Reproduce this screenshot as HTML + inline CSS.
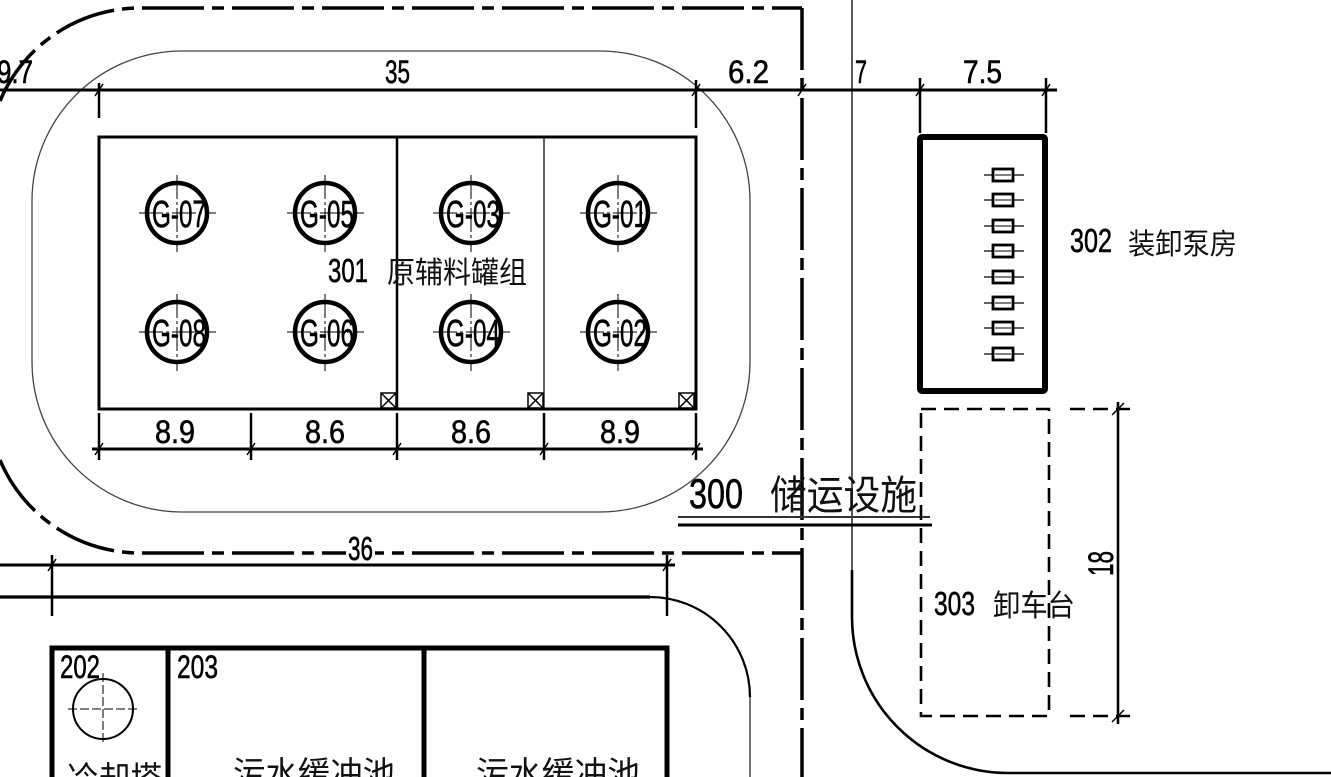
<!DOCTYPE html>
<html><head><meta charset="utf-8">
<style>
html,body{margin:0;padding:0;background:#fff;}
svg{display:block;}
.d{font-family:"Liberation Sans",sans-serif;fill:#000;stroke:#000;stroke-width:0.6;}
.c{font-family:"Liberation Sans","Noto Sans CJK SC",sans-serif;fill:#111;}
</style></head>
<body>
<svg width="1331" height="777" viewBox="0 0 1331 777" xmlns="http://www.w3.org/2000/svg">
<rect width="1331" height="777" fill="#fff"/>

<!-- outer dash-dot boundary -->
<g fill="none" stroke="#000" stroke-width="3.5" stroke-dasharray="62 8 12 8">
  <path d="M0 101 A152 152 0 0 1 140 8 L802 8"/>
  <path d="M802 8 L802 777"/>
  <path d="M0 460 A152 152 0 0 0 140 553 L802 553"/>
</g>

<!-- fire dike rounded rect -->
<rect x="32" y="51" width="718" height="461" rx="150" ry="150" fill="none" stroke="#444" stroke-width="1.3"/>

<!-- right road line -->
<path d="M852 0 L852 570" fill="none" stroke="#333" stroke-width="1.6"/>
<path d="M852 570 L852 617 A156 156 0 0 0 1008 773 L1331 773" fill="none" stroke="#000" stroke-width="2.6"/>

<!-- top dimension line -->
<g stroke="#000" fill="none">
  <line x1="0" y1="90" x2="1057" y2="90" stroke-width="3"/>
  <line x1="99" y1="83" x2="99" y2="118" stroke-width="2.5"/>
  <line x1="696" y1="80" x2="696" y2="128" stroke-width="2.5"/>
  <line x1="920" y1="78" x2="920" y2="133" stroke-width="2.5"/>
  <line x1="1046" y1="78" x2="1046" y2="133" stroke-width="2.5"/>
  <g stroke-width="1.5">
    <line x1="2" y1="96" x2="8" y2="84"/>
    <line x1="95" y1="96" x2="103" y2="84"/>
    <line x1="692" y1="96" x2="700" y2="84"/>
    <line x1="798" y1="96" x2="806" y2="84"/>
    <line x1="916" y1="96" x2="924" y2="84"/>
    <line x1="1042" y1="96" x2="1050" y2="84"/>
  </g>
</g>
<text class="d" x="-3" y="83" font-size="32" textLength="36" lengthAdjust="spacingAndGlyphs">9.7</text>
<text class="d" x="385" y="83" font-size="32" textLength="25" lengthAdjust="spacingAndGlyphs">35</text>
<text class="d" x="728" y="83" font-size="32" textLength="41" lengthAdjust="spacingAndGlyphs">6.2</text>
<text class="d" x="855" y="83" font-size="32" textLength="12" lengthAdjust="spacingAndGlyphs">7</text>
<text class="d" x="963" y="83" font-size="32" textLength="39" lengthAdjust="spacingAndGlyphs">7.5</text>

<!-- tank group -->
<rect x="99" y="137" width="597" height="272" fill="none" stroke="#000" stroke-width="3"/>
<line x1="397" y1="137" x2="397" y2="409" stroke="#000" stroke-width="2.5"/>
<line x1="544" y1="137" x2="544" y2="409" stroke="#000" stroke-width="1.2"/>

<!-- valves -->
<g fill="none" stroke="#000" stroke-width="1.5">
  <rect x="381" y="393" width="15" height="15"/><line x1="381" y1="393" x2="396" y2="408"/><line x1="396" y1="393" x2="381" y2="408"/>
  <rect x="528" y="393" width="15" height="15"/><line x1="528" y1="393" x2="543" y2="408"/><line x1="543" y1="393" x2="528" y2="408"/>
  <rect x="679" y="393" width="15" height="15"/><line x1="679" y1="393" x2="694" y2="408"/><line x1="694" y1="393" x2="679" y2="408"/>
</g>

<!-- tanks -->
<g>
  <g fill="none" stroke="#000" stroke-width="4.5">
    <circle cx="177" cy="213" r="30"/><circle cx="325" cy="213" r="30"/><circle cx="471" cy="213" r="30"/><circle cx="618" cy="213" r="30"/>
    <circle cx="177" cy="332" r="30"/><circle cx="325" cy="332" r="30"/><circle cx="471" cy="332" r="30"/><circle cx="618" cy="332" r="30"/>
  </g>
  <g stroke="#000" stroke-width="1" stroke-dasharray="24 3 3 3">
    <line x1="139" y1="213" x2="216" y2="213"/><line x1="177" y1="175" x2="177" y2="252"/>
    <line x1="287" y1="213" x2="364" y2="213"/><line x1="325" y1="175" x2="325" y2="252"/>
    <line x1="433" y1="213" x2="510" y2="213"/><line x1="471" y1="175" x2="471" y2="252"/>
    <line x1="580" y1="213" x2="657" y2="213"/><line x1="618" y1="175" x2="618" y2="252"/>
    <line x1="139" y1="332" x2="216" y2="332"/><line x1="177" y1="294" x2="177" y2="371"/>
    <line x1="287" y1="332" x2="364" y2="332"/><line x1="325" y1="294" x2="325" y2="371"/>
    <line x1="433" y1="332" x2="510" y2="332"/><line x1="471" y1="294" x2="471" y2="371"/>
    <line x1="580" y1="332" x2="657" y2="332"/><line x1="618" y1="294" x2="618" y2="371"/>
  </g>
  <g class="d" font-size="38" text-anchor="middle">
    <text x="179" y="227" textLength="54" lengthAdjust="spacingAndGlyphs">G-07</text>
    <text x="327" y="227" textLength="54" lengthAdjust="spacingAndGlyphs">G-05</text>
    <text x="473" y="227" textLength="54" lengthAdjust="spacingAndGlyphs">G-03</text>
    <text x="620" y="227" textLength="54" lengthAdjust="spacingAndGlyphs">G-01</text>
    <text x="179" y="346" textLength="54" lengthAdjust="spacingAndGlyphs">G-08</text>
    <text x="327" y="346" textLength="54" lengthAdjust="spacingAndGlyphs">G-06</text>
    <text x="473" y="346" textLength="54" lengthAdjust="spacingAndGlyphs">G-04</text>
    <text x="620" y="346" textLength="54" lengthAdjust="spacingAndGlyphs">G-02</text>
  </g>
</g>

<!-- 301 label -->
<text class="d" x="328" y="282" font-size="33" textLength="40" lengthAdjust="spacingAndGlyphs">301</text>
<text class="c" x="387" y="283" font-size="30" textLength="140" lengthAdjust="spacingAndGlyphs">原辅料罐组</text>

<!-- bottom dimension of tanks -->
<g stroke="#000" fill="none">
  <line x1="92" y1="449" x2="703" y2="449" stroke-width="3"/>
  <line x1="99" y1="413" x2="99" y2="460" stroke-width="2.5"/>
  <line x1="251" y1="413" x2="251" y2="460" stroke-width="2.5"/>
  <line x1="397" y1="413" x2="397" y2="460" stroke-width="2.5"/>
  <line x1="544" y1="413" x2="544" y2="460" stroke-width="2.5"/>
  <line x1="696" y1="413" x2="696" y2="460" stroke-width="2.5"/>
  <g stroke-width="1.5">
    <line x1="95" y1="455" x2="103" y2="443"/>
    <line x1="247" y1="455" x2="255" y2="443"/>
    <line x1="393" y1="455" x2="401" y2="443"/>
    <line x1="540" y1="455" x2="548" y2="443"/>
    <line x1="692" y1="455" x2="700" y2="443"/>
  </g>
</g>
<text class="d" x="155" y="443" font-size="32" textLength="40" lengthAdjust="spacingAndGlyphs">8.9</text>
<text class="d" x="305" y="443" font-size="32" textLength="40" lengthAdjust="spacingAndGlyphs">8.6</text>
<text class="d" x="451" y="443" font-size="32" textLength="40" lengthAdjust="spacingAndGlyphs">8.6</text>
<text class="d" x="600" y="443" font-size="32" textLength="40" lengthAdjust="spacingAndGlyphs">8.9</text>

<!-- 300 title -->
<text class="d" x="689" y="508" font-size="42" textLength="54" lengthAdjust="spacingAndGlyphs">300</text>
<text class="c" x="770" y="509" font-size="40" textLength="147" lengthAdjust="spacingAndGlyphs">储运设施</text>
<line x1="678" y1="517" x2="930" y2="517" stroke="#333" stroke-width="2"/>
<line x1="678" y1="525" x2="932" y2="525" stroke="#000" stroke-width="3"/>

<!-- 302 pump house -->
<rect x="920" y="137" width="125" height="254" rx="2" fill="none" stroke="#000" stroke-width="6"/>
<g stroke="#000">
  <g stroke-width="1.2">
    <line x1="984" y1="175" x2="1024" y2="175"/><line x1="984" y1="200" x2="1024" y2="200"/>
    <line x1="984" y1="226" x2="1024" y2="226"/><line x1="984" y1="251" x2="1024" y2="251"/>
    <line x1="984" y1="277" x2="1024" y2="277"/><line x1="984" y1="303" x2="1024" y2="303"/>
    <line x1="984" y1="328" x2="1024" y2="328"/><line x1="984" y1="354" x2="1024" y2="354"/>
  </g>
  <g fill="#fff" stroke-width="2.8">
    <rect x="993" y="169" width="20" height="12"/><rect x="993" y="194" width="20" height="12"/>
    <rect x="993" y="220" width="20" height="12"/><rect x="993" y="245" width="20" height="12"/>
    <rect x="993" y="271" width="20" height="12"/><rect x="993" y="297" width="20" height="12"/>
    <rect x="993" y="322" width="20" height="12"/><rect x="993" y="348" width="20" height="12"/>
  </g>
  <g stroke-width="1">
    <line x1="995" y1="175" x2="1011" y2="175"/><line x1="995" y1="200" x2="1011" y2="200"/>
    <line x1="995" y1="226" x2="1011" y2="226"/><line x1="995" y1="251" x2="1011" y2="251"/>
    <line x1="995" y1="277" x2="1011" y2="277"/><line x1="995" y1="303" x2="1011" y2="303"/>
    <line x1="995" y1="328" x2="1011" y2="328"/><line x1="995" y1="354" x2="1011" y2="354"/>
  </g>
</g>
<text class="d" x="1070" y="252" font-size="33" textLength="42" lengthAdjust="spacingAndGlyphs">302</text>
<text class="c" x="1128" y="254" font-size="29" textLength="109" lengthAdjust="spacingAndGlyphs">装卸泵房</text>

<!-- 303 platform -->
<rect x="921" y="409" width="128" height="307" fill="none" stroke="#000" stroke-width="2.6" stroke-dasharray="15 8"/>
<g stroke="#000" fill="none" stroke-width="2.6">
  <line x1="1070" y1="409" x2="1130" y2="409" stroke-dasharray="15 8"/>
  <line x1="1070" y1="716" x2="1130" y2="716" stroke-dasharray="15 8"/>
  <line x1="1118" y1="402" x2="1118" y2="724"/>
  <line x1="1112" y1="415" x2="1124" y2="403" stroke-width="1.5"/>
  <line x1="1112" y1="722" x2="1124" y2="710" stroke-width="1.5"/>
</g>
<text class="d" transform="translate(1113,576) rotate(-90)" x="0" y="0" font-size="35" textLength="25" lengthAdjust="spacingAndGlyphs">18</text>
<text class="d" x="934" y="615" font-size="33" textLength="41" lengthAdjust="spacingAndGlyphs">303</text>
<text class="c" x="993" y="616" font-size="30" textLength="82" lengthAdjust="spacingAndGlyphs">卸车台</text>

<!-- 36 dimension and road -->
<g stroke="#000" fill="none">
  <line x1="0" y1="565" x2="675" y2="565" stroke-width="3"/>
  <line x1="52" y1="555" x2="52" y2="616" stroke-width="2.5"/>
  <line x1="667" y1="555" x2="667" y2="616" stroke-width="2.5"/>
  <line x1="48" y1="571" x2="56" y2="559" stroke-width="1.5"/>
  <line x1="663" y1="571" x2="671" y2="559" stroke-width="1.5"/>
  <path d="M0 597 L650 597" stroke-width="3.2"/>
  <path d="M650 597 A100 100 0 0 1 750 697" stroke-width="2.2"/>
  <path d="M750 697 L750 777" stroke="#444" stroke-width="1.5"/>
</g>
<rect x="346" y="537" width="29" height="22" fill="#fff"/>
<text class="d" x="348" y="560" font-size="33" textLength="25" lengthAdjust="spacingAndGlyphs">36</text>

<!-- bottom buildings -->
<g stroke="#000" fill="none" stroke-width="5">
  <path d="M52 780 L52 648 L667 648 L667 780"/>
  <line x1="168" y1="648" x2="168" y2="780"/>
  <line x1="424" y1="648" x2="424" y2="780"/>
</g>
<circle cx="103" cy="709" r="30" fill="none" stroke="#000" stroke-width="2"/>
<g stroke="#000" stroke-width="1" stroke-dasharray="9 3">
  <line x1="68" y1="709" x2="140" y2="709"/>
  <line x1="103" y1="673" x2="103" y2="744"/>
</g>
<text class="d" x="60" y="678" font-size="32" textLength="40" lengthAdjust="spacingAndGlyphs">202</text>
<text class="d" x="177" y="678" font-size="32" textLength="41" lengthAdjust="spacingAndGlyphs">203</text>
<text class="c" x="67" y="790" font-size="33" textLength="95" lengthAdjust="spacingAndGlyphs">冷却塔</text>
<text class="c" x="233" y="785" font-size="33" textLength="162" lengthAdjust="spacingAndGlyphs">污水缓冲池</text>
<text class="c" x="476" y="785" font-size="33" textLength="164" lengthAdjust="spacingAndGlyphs">污水缓冲池</text>
</svg>
</body></html>
